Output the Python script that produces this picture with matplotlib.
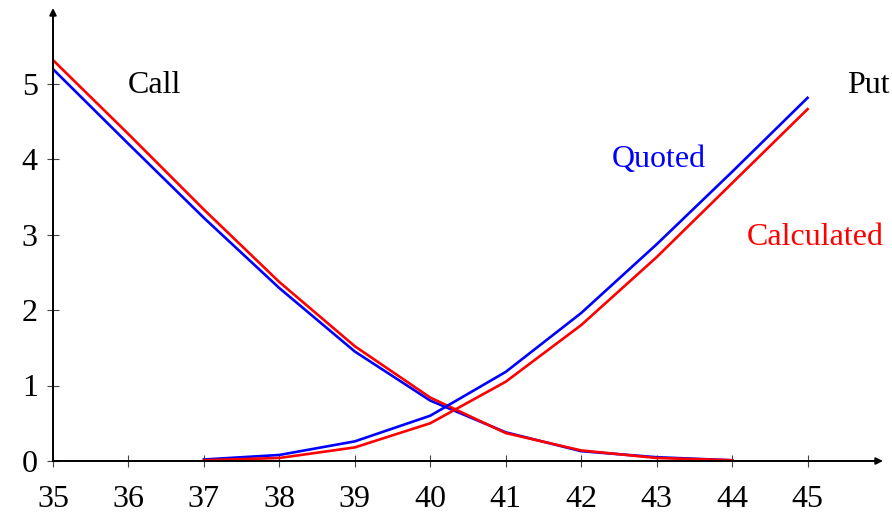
import matplotlib.pyplot as plt

plt.rcParams['font.family'] = ['Liberation Serif', 'DejaVu Serif']

call_strikes = [35, 36, 37, 38, 39, 40, 41, 42, 43, 44]
call_quoted = [5.19, 4.20, 3.22, 2.29, 1.45, 0.80, 0.38, 0.13, 0.05, 0.01]
call_calc = [5.31, 4.33, 3.33, 2.37, 1.52, 0.84, 0.37, 0.14, 0.04, 0.01]

put_strikes = [37, 38, 39, 40, 41, 42, 43, 44, 45]
put_quoted = [0.02, 0.08, 0.26, 0.60, 1.18, 1.96, 2.87, 3.83, 4.81]
put_calc = [0.01, 0.04, 0.18, 0.50, 1.05, 1.80, 2.70, 3.68, 4.66]

xticks = list(range(35, 46))
yticks = [0, 1, 2, 3, 4, 5]

fig = plt.figure(figsize=(8.92, 5.14), dpi=100)
ax = fig.add_axes([53 / 892, 53 / 514, 830 / 892, 453 / 514])

ax.plot(call_strikes, call_quoted, color='blue', lw=1.9)
ax.plot(call_strikes, call_calc, color='red', lw=1.9)
ax.plot(put_strikes, put_quoted, color='blue', lw=1.9)
ax.plot(put_strikes, put_calc, color='red', lw=1.9)

ax.set_xlim(35, 46)
ax.set_ylim(0, 6)
for s in ax.spines.values():
    s.set_visible(False)

# axis lines with arrow heads
ax.annotate('', xy=(1.0, 0), xytext=(0, 0), xycoords='axes fraction',
            arrowprops=dict(arrowstyle='-|>', color='black', lw=1.4,
                            mutation_scale=10, shrinkA=0, shrinkB=0))
ax.annotate('', xy=(0, 1.0), xytext=(0, 0), xycoords='axes fraction',
            arrowprops=dict(arrowstyle='-|>', color='black', lw=1.4,
                            mutation_scale=10, shrinkA=0, shrinkB=0))

ax.set_xticks(xticks)
ax.set_yticks(yticks)
ax.tick_params(direction='inout', length=8, width=0.8, color='#444444',
               labelsize=23)
ax.tick_params(axis='x', pad=13)
ax.tick_params(axis='y', pad=7)

ax.text(36.35, 4.97, 'Call', fontsize=23, ha='center', va='center')
ax.text(45.8, 4.97, 'Put', fontsize=23, ha='center', va='center')
ax.text(43.03, 3.99, 'Quoted', fontsize=23, color='blue', ha='center', va='center')
ax.text(45.1, 2.96, 'Calculated', fontsize=23, color='red', ha='center', va='center')

fig.savefig('out.png', dpi=100)
